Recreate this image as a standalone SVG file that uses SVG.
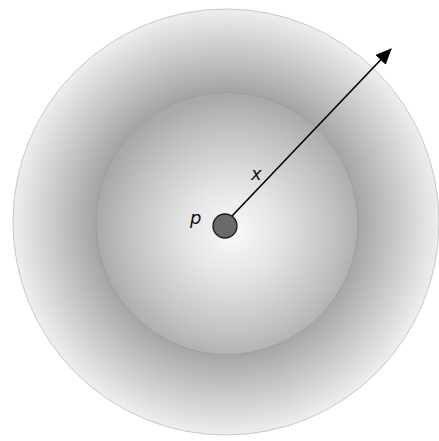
<svg xmlns="http://www.w3.org/2000/svg" width="439" height="441" viewBox="0 0 439 441">
<defs>
<radialGradient id="gOuter" cx="226" cy="222" r="213" gradientUnits="userSpaceOnUse">
<stop offset="0" stop-color="#a6a6a6"/>
<stop offset="0.62" stop-color="#a6a6a6"/>
<stop offset="1" stop-color="#eeeeee"/>
</radialGradient>
<radialGradient id="gInner" cx="232" cy="232" r="135" gradientUnits="userSpaceOnUse">
<stop offset="0" stop-color="#fafafa"/>
<stop offset="0.35" stop-color="#e4e4e4"/>
<stop offset="0.75" stop-color="#c2c2c2"/>
<stop offset="1" stop-color="#aaaaaa"/>
</radialGradient>
<marker id="arrow" markerWidth="16" markerHeight="14" refX="15" refY="7" orient="auto" markerUnits="userSpaceOnUse" viewBox="0 0 16 14">
<path d="M0,0 L16,7 L0,14 Z" fill="#000"/>
</marker>
<style>
.lbl{font-family:"DejaVu Sans","Liberation Sans",sans-serif;font-style:italic;font-size:18px;fill:#111}
</style>
</defs>
<rect width="439" height="441" fill="#fff"/>
<g id="outer">
<circle cx="226" cy="222" r="213" fill="url(#gOuter)" stroke="#c8c8c8" stroke-width="1"/>
</g>
<g id="inner">
<circle cx="227" cy="223.5" r="131" fill="url(#gInner)" stroke="#8f8f8f" stroke-width="0.8" stroke-opacity="0.6"/>
</g>
<g id="connectors">
<line x1="232" y1="216" x2="391" y2="49" stroke="#000" stroke-width="1.6" marker-end="url(#arrow)"/>
</g>
<g id="p">
<circle cx="225" cy="226" r="12" fill="#6a6a6a" stroke="#1a1a1a" stroke-width="1.3"/>
<text class="lbl" x="190" y="224">p</text>
</g>
<g id="xlabel">
<text class="lbl" x="251" y="180">x</text>
</g>
</svg>
